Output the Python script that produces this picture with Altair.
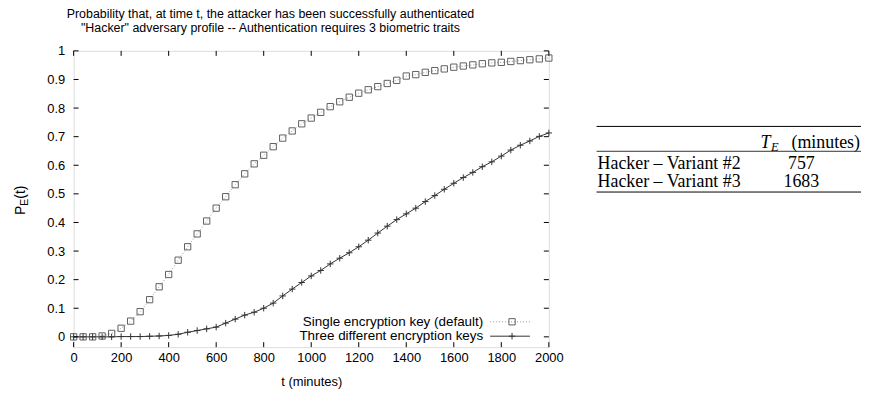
import altair as alt
import pandas as pd

# ---------------- data ----------------
t_minutes = list(range(0, 2001, 40))
single_key = [0.0, 0.0, 0.0, 0.003, 0.012, 0.03, 0.055, 0.088, 0.13, 0.175,
              0.218, 0.268, 0.315, 0.36, 0.405, 0.45, 0.49, 0.532, 0.57, 0.605,
              0.635, 0.665, 0.695, 0.72, 0.745, 0.765, 0.785, 0.805, 0.822, 0.838,
              0.852, 0.864, 0.875, 0.886, 0.897, 0.912, 0.917, 0.925, 0.931, 0.937,
              0.943, 0.947, 0.951, 0.955, 0.958, 0.960, 0.963, 0.966, 0.969, 0.972, 0.975]
three_keys = [0.0, 0.0, 0.0, 0.0, 0.0, 0.001, 0.001, 0.001, 0.002, 0.003,
              0.005, 0.009, 0.016, 0.022, 0.028, 0.034, 0.048, 0.062, 0.076, 0.086,
              0.1, 0.118, 0.143, 0.167, 0.19, 0.213, 0.232, 0.255, 0.275, 0.294,
              0.315, 0.338, 0.363, 0.387, 0.41, 0.43, 0.45, 0.473, 0.494, 0.516,
              0.537, 0.557, 0.575, 0.595, 0.612, 0.632, 0.653, 0.67, 0.685, 0.701, 0.713]
x_ticks = [0, 200, 400, 600, 800, 1000, 1200, 1400, 1600, 1800, 2000]
y_ticks = [0, 0.1, 0.2, 0.3, 0.4, 0.5, 0.6, 0.7, 0.8, 0.9, 1]
series_names = ["Single encryption key (default)", "Three different encryption keys"]
title_lines = ["Probability that, at time t, the attacker has been successfully authenticated",
               "\"Hacker\" adversary profile -- Authentication requires 3 biometric traits"]
x_title = "t (minutes)"
table_rows = ["Hacker \u2013 Variant #2", "Hacker \u2013 Variant #3"]
table_values = ["757", "1683"]
table_unit = "(minutes)"

# ---------------- layout ----------------
W, H = 478, 298
SANS = "Liberation Sans"
SERIF = "Liberation Serif"

df = pd.DataFrame({"t": t_minutes, "single": single_key, "three": three_keys})
xs = alt.Scale(domain=[0, 2000], nice=False, zero=False)
ys = alt.Scale(domain=[-0.036, 1], nice=False, zero=False)

xaxis = alt.Axis(values=x_ticks, ticks=False, tickSize=0, domain=False, grid=False,
                 format="d", labelOverlap=False,
                 labelFont=SANS, labelFontSize=13, labelColor="black", labelPadding=4,
                 title=x_title, titleFont=SANS, titleFontSize=13, titleFontWeight="normal",
                 titleColor="black", titlePadding=12, labelFlush=False)
yaxis = alt.Axis(values=y_ticks, ticks=False, tickSize=0, domain=False, grid=False,
                 labelOverlap=False, labelFlush=False,
                 labelFont=SANS, labelFontSize=13, labelColor="black", labelPadding=9,
                 format="~g", title=None)


def X(field):
    return alt.X(field, scale=xs, axis=xaxis)


def Y(field):
    return alt.Y(field, scale=ys, axis=yaxis)


base = alt.Chart(df)
SQ_COL = "#606060"
single_line = base.mark_line(color="#999999", strokeWidth=1, strokeDash=[1, 2]).encode(
    x=X("t:Q"), y=Y("single:Q"))
single_pts = base.mark_point(shape="square", size=40, color=SQ_COL, filled=False,
                             strokeWidth=1, opacity=1).encode(x=X("t:Q"), y=Y("single:Q"))
three_line = base.mark_line(color="#333333", strokeWidth=1).encode(x=X("t:Q"), y=Y("three:Q"))
PLUS = "M-1,0L1,0M0,-1L0,1"
three_pts = base.mark_point(shape=PLUS, size=42, color="#333333", filled=False,
                            strokeWidth=1, opacity=1).encode(x=X("t:Q"), y=Y("three:Q"))

# inward ticks (gnuplot style)
xt = alt.Chart(pd.DataFrame({"t": x_ticks}))
yt = alt.Chart(pd.DataFrame({"t": y_ticks}))
TL = 5
tick_layers = [
    xt.mark_rule(color="black", strokeWidth=1).encode(x=X("t:Q"), y=alt.value(H), y2=alt.value(H - TL)),
    xt.mark_rule(color="black", strokeWidth=1).encode(x=X("t:Q"), y=alt.value(0), y2=alt.value(TL)),
    yt.mark_rule(color="black", strokeWidth=1).encode(y=Y("t:Q"), x=alt.value(0), x2=alt.value(TL)),
    yt.mark_rule(color="black", strokeWidth=1).encode(y=Y("t:Q"), x=alt.value(W), x2=alt.value(W - TL)),
]


def txt(s, x, y, size=13, font=SANS, align="left", baseline="alphabetic", angle=0, style="normal"):
    kw = dict(font=font, fontSize=size, align=align, baseline=baseline, color="black", fontStyle=style)
    if angle:
        kw["angle"] = angle
    return alt.Chart(pd.DataFrame({"s": [s]})).mark_text(**kw).encode(
        text="s:N", x=alt.value(x), y=alt.value(y))


def hrule(x1, x2, y, color="black", width=1, dash=None):
    kw = dict(color=color, strokeWidth=width)
    if dash:
        kw["strokeDash"] = dash
    return alt.Chart(pd.DataFrame({"a": [0]})).mark_rule(**kw).encode(
        x=alt.value(x1), x2=alt.value(x2), y=alt.value(y))


def marker(x, y, shape, color, size):
    return alt.Chart(pd.DataFrame({"a": [0]})).mark_point(
        shape=shape, size=size, color=color, filled=False, strokeWidth=1, opacity=1).encode(
        x=alt.value(x), y=alt.value(y))


# title
title_layers = [
    txt(title_lines[0], 198, -33.5, size=12.5, align="center"),
    txt(title_lines[1], 198, -19, size=12.5, align="center"),
]

# y-axis title P_E(t)
ylab = [
    txt("P", -49, 165, size=14, angle=270),
    txt("E", -46, 155.7, size=10.5, angle=270),
    txt("(t)", -49, 148.7, size=14, angle=270),
]

# legend (inside, bottom right)
LY1, LY2 = 272.5, 287
legend_layers = [
    txt(series_names[0], 412, LY1, size=13.5, align="right", baseline="middle"),
    txt(series_names[1], 412, LY2, size=13.5, align="right", baseline="middle"),
    hrule(419, 459, LY1, color="#999999", dash=[1, 2]),
    hrule(419, 459, LY2, color="#333333"),
    marker(441, LY1, "square", SQ_COL, 40),
    marker(441, LY2, PLUS, "#333333", 42),
]

# table on the right
TX0, TX1 = 526, 792
FS = 18
table_layers = [
    hrule(TX0, TX1, 76),
    hrule(TX0, TX1, 101, width=0.8),
    hrule(TX0, TX1, 142),
    txt("T", 691, 97.5, size=FS, font=SERIF, style="italic"),
    txt("E", 701.5, 100.5, size=12.5, font=SERIF, style="italic"),
    txt(table_unit, 791, 97.5, size=FS, font=SERIF, align="right"),
    txt(table_rows[0], 527, 118.5, size=FS, font=SERIF),
    txt(table_rows[1], 527, 137, size=FS, font=SERIF),
    txt(table_values[0], 732, 118.5, size=FS, font=SERIF, align="center"),
    txt(table_values[1], 732, 137, size=FS, font=SERIF, align="center"),
]

chart = alt.layer(
    single_line, three_line, single_pts, three_pts,
    *tick_layers, *title_layers, *ylab, *legend_layers, *table_layers
).properties(
    width=W, height=H,
    autosize=alt.AutoSizeParams(type="none"),
    padding={"left": 66, "top": 42, "right": 314, "bottom": 44},
).configure_view(stroke="black", strokeWidth=1).configure(background="white")

chart.save("out.html", embed_options={"renderer": "svg", "actions": False})
